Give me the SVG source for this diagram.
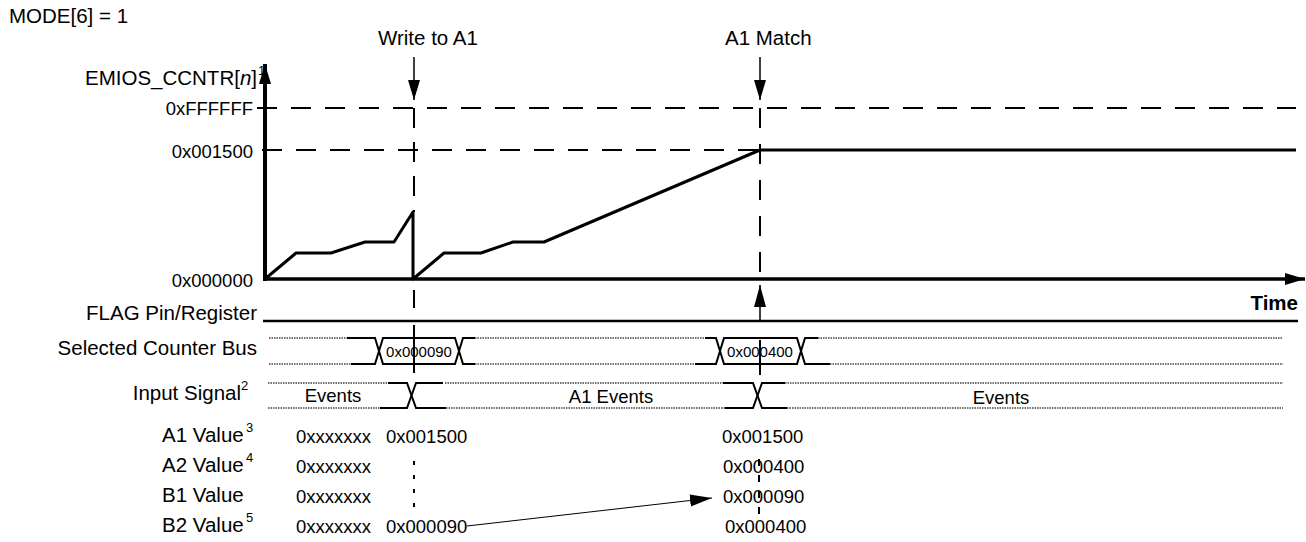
<svg xmlns="http://www.w3.org/2000/svg" width="1306" height="542" viewBox="0 0 1306 542">
<style>
text{font-family:"Liberation Sans",Arial,sans-serif;fill:#000}
.lbl{font-size:20.5px}
.lr{font-size:20.5px;text-anchor:end}
.val{font-size:18.5px}
.vr{font-size:18.5px;text-anchor:end}
.bus{font-size:15px;text-anchor:middle}
.sup{font-size:13px}
.dash{stroke:#000;stroke-width:2;fill:none;stroke-dasharray:20 14}
.sol{stroke:#000;stroke-width:2;fill:none}
.dot{stroke:#444;stroke-width:1.5;fill:none;stroke-dasharray:1.5 1}
.thick{stroke:#000;stroke-width:3;fill:none}
</style>
<defs>
<marker id="ah" markerWidth="22" markerHeight="12" refX="20" refY="6" orient="auto" markerUnits="userSpaceOnUse"><path d="M0,0 L20,6 L0,12 Z" fill="#000"/></marker>
<marker id="ahs" markerWidth="24" markerHeight="14" refX="22" refY="7" orient="auto" markerUnits="userSpaceOnUse"><path d="M0,1 L22,7 L0,13 Z" fill="#000"/></marker>
</defs>

<g id="titles">
<text class="lbl" x="9" y="23">MODE[6] = 1</text>
<text class="lbl" x="378" y="45">Write to A1</text>
<text class="lbl" x="725" y="45">A1 Match</text>
</g>

<g id="axes">
<line x1="265" y1="281" x2="265" y2="64" stroke="#000" stroke-width="4" marker-end="url(#ah)"/>
<line x1="263" y1="279" x2="1305" y2="279" stroke="#000" stroke-width="3.5" marker-end="url(#ah)"/>
<text class="lr" x="257" y="85">EMIOS_CCNTR[<tspan font-style="italic">n</tspan>]</text>
<text class="sup" x="258" y="75">1</text>
<text class="vr" x="253" y="115">0xFFFFFF</text>
<text class="vr" x="253" y="158">0x001500</text>
<text class="vr" x="253" y="287">0x000000</text>
<text x="1298" y="310" font-size="20.5" font-weight="bold" text-anchor="end">Time</text>
</g>

<g id="levels">
<line class="dash" x1="257" y1="108" x2="1296" y2="108"/>
<line class="dash" x1="262" y1="150" x2="760" y2="150"/>
</g>

<g id="counter">
<polyline class="thick" stroke-linejoin="round" points="265,279 296,253 331,253 365,242 394,242 413,212 413,279 444,253 481,253 513,242 544,242 760,150 1296,150"/>
</g>

<g id="flag">
<text class="lr" x="257" y="320">FLAG Pin/Register</text>
<line x1="263" y1="321" x2="1298" y2="321" stroke="#000" stroke-width="2.5"/>
</g>

<g id="counter-bus">
<text class="lr" x="257" y="355">Selected Counter Bus</text>
<line class="dot" x1="269" y1="338" x2="347" y2="338"/>
<line class="dot" x1="269" y1="364" x2="351" y2="364"/>
<polyline class="sol" points="347,338 375,338 383,364 455,364 463,338 475,338"/>
<polyline class="sol" points="351,364 375,364 383,338 455,338 463,364 475,364"/>
<line class="dot" x1="475" y1="338" x2="705" y2="338"/>
<line class="dot" x1="475" y1="364" x2="695" y2="364"/>
<polyline class="sol" points="705,338 716,338 724,364 797,364 805,338 818,338"/>
<polyline class="sol" points="695,364 716,364 724,338 797,338 805,364 830,364"/>
<line class="dot" x1="818" y1="338" x2="1283" y2="338"/>
<line class="dot" x1="830" y1="364" x2="1283" y2="364"/>
<text class="bus" x="419" y="357">0x000090</text>
<text class="bus" x="760" y="357">0x000400</text>
</g>

<g id="input-signal">
<text class="lr" x="241" y="400">Input Signal</text>
<text class="sup" x="241" y="390">2</text>
<line class="dot" x1="268" y1="383" x2="388" y2="383"/>
<line class="dot" x1="268" y1="408" x2="380" y2="408"/>
<polyline class="sol" points="388,383 407,383 416,408 446,408"/>
<polyline class="sol" points="380,408 407,408 416,383 443,383"/>
<line class="dot" x1="445" y1="383" x2="723" y2="383"/>
<line class="dot" x1="446" y1="408" x2="725" y2="408"/>
<polyline class="sol" points="723,383 753,383 762,408 787,408"/>
<polyline class="sol" points="725,408 753,408 762,383 785,383"/>
<line class="dot" x1="785" y1="383" x2="1283" y2="383"/>
<line class="dot" x1="787" y1="408" x2="1283" y2="408"/>
<text class="val" x="333" y="402" text-anchor="middle">Events</text>
<text class="val" x="611" y="403" text-anchor="middle">A1 Events</text>
<text class="val" x="1001" y="404" text-anchor="middle">Events</text>
</g>

<g id="registers">
<text class="lbl" x="162" y="442">A1 Value</text><text class="sup" x="246" y="432">3</text>
<text class="lbl" x="162" y="472">A2 Value</text><text class="sup" x="246" y="462">4</text>
<text class="lbl" x="162" y="502">B1 Value</text>
<text class="lbl" x="162" y="532">B2 Value</text><text class="sup" x="246" y="522">5</text>
<text class="val" x="296" y="443">0xxxxxxx</text>
<text class="val" x="296" y="473">0xxxxxxx</text>
<text class="val" x="296" y="503">0xxxxxxx</text>
<text class="val" x="296" y="533">0xxxxxxx</text>
<text class="val" x="386" y="443">0x001500</text>
<text class="val" x="386" y="533">0x000090</text>
<text class="val" x="722" y="443">0x001500</text>
<text class="val" x="723" y="473">0x000400</text>
<text class="val" x="723" y="503">0x000090</text>
<text class="val" x="725" y="533">0x000400</text>
</g>

<g id="connectors">
<line x1="414" y1="57" x2="414" y2="100" stroke="#000" stroke-width="1.5" marker-end="url(#ah)"/>
<line x1="760" y1="57" x2="760" y2="100" stroke="#000" stroke-width="1.5" marker-end="url(#ah)"/>
<line class="dash" x1="414" y1="108" x2="414" y2="212"/>
<line class="dash" x1="760" y1="108" x2="760" y2="272" style="stroke-dasharray:20 16"/>
<line class="sol" x1="414" y1="290" x2="414" y2="308"/>
<line class="sol" x1="414" y1="325" x2="414" y2="373"/>
<line x1="760" y1="321" x2="760" y2="285" stroke="#000" stroke-width="1.5" marker-end="url(#ahs)"/>
<line class="sol" x1="760" y1="340" x2="760" y2="375"/>
<line x1="414" y1="461" x2="414" y2="513" stroke="#000" stroke-width="2" stroke-dasharray="4 10"/>
<line x1="759" y1="459" x2="759" y2="514" stroke="#000" stroke-width="2" stroke-dasharray="7 9"/>
<line x1="467" y1="526" x2="712" y2="498" stroke="#000" stroke-width="1" marker-end="url(#ahs)"/>
</g>
</svg>
